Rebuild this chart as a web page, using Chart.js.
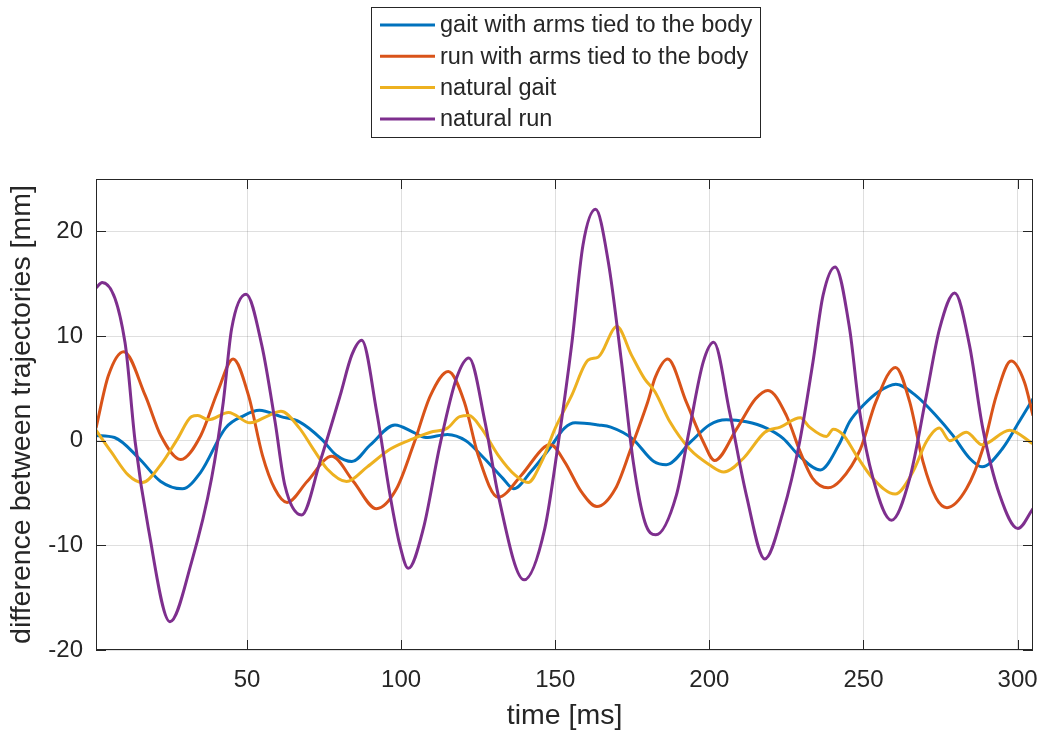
<!DOCTYPE html>
<html>
<head>
<meta charset="utf-8">
<script src="https://cdn.jsdelivr.net/npm/chart.js@4.4.0/dist/chart.umd.min.js"></script>
<style>
  html, body { margin: 0; padding: 0; background: #fff; }
  #wrap { width: 1038px; height: 733px; position: relative; }
</style>
</head>
<body>
<div id="wrap"><canvas id="chart"></canvas></div>
<script>
// values (time in ms, difference in mm)
var gaitTiedTime = [1, 7, 15, 22, 29, 35, 43, 49, 54, 61, 67, 74, 79, 84, 90, 98, 104, 108, 115, 121, 127, 133, 136.5, 142, 148, 153, 156.5, 164, 168, 175, 182, 186, 194, 200, 205.5, 212, 218.5, 224, 229, 236, 242, 245.5, 250, 255, 260.5, 267, 273.5, 279, 284.5, 288.5, 295, 300.5, 305];
var gaitTiedDiff = [0.5, 0.3, -1.7, -3.9, -4.6, -3.0, 1.2, 2.4, 2.9, 2.3, 1.8, 0.2, -1.4, -2.0, -0.4, 1.5, 0.8, 0.3, 0.6, 0, -1.7, -3.6, -4.6, -3.0, -0.8, 1.2, 1.7, 1.5, 1.3, 0.2, -2.0, -2.3, -0.1, 1.5, 2.0, 1.8, 1.2, 0.2, -1.4, -2.8, -0.4, 1.8, 3.4, 4.7, 5.4, 4.3, 2.4, 0.5, -1.7, -2.5, -0.8, 1.8, 4.0];

var runTiedTime = [1, 5, 10, 17, 22, 28.5, 35, 40.5, 45.5, 50.5, 55, 59, 63, 69.5, 77.5, 84.5, 92, 98.5, 104, 109.5, 115.3, 120.5, 125, 131.5, 139, 146.5, 148.5, 153, 158.5, 163.5, 169.5, 174.5, 180, 182.5, 186.5, 192.5, 198, 201.7, 209, 215, 219, 225, 229.5, 233.5, 238.5, 242.5, 249, 254, 260.4, 265, 269.3, 273.6, 277.1, 283.4, 288.7, 293.1, 297.9, 302.2, 305];
var runTiedDiff = [1.2, 6.2, 8.5, 4.3, 0.5, -1.8, 0.5, 4.7, 7.8, 4.3, -1.4, -4.6, -5.9, -3.9, -1.5, -3.9, -6.5, -4.6, -0.4, 4.3, 6.6, 3.7, -1.4, -5.4, -3.3, -0.6, -0.4, -2.0, -4.9, -6.3, -4.6, -0.8, 3.7, 6.1, 7.8, 3.7, -0.1, -1.9, 1.2, 4.0, 4.8, 2.4, -1.1, -3.6, -4.5, -3.8, -0.8, 3.7, 7.0, 3.7, -2.0, -5.5, -6.4, -4.6, -0.8, 4.3, 7.6, 5.6, 2.4];

var gaitTime = [1, 6, 11.5, 16, 22, 27.5, 32, 34, 37.5, 44, 51, 57, 61, 67, 71.5, 76, 82.3, 89, 96.5, 104, 109.5, 115, 119, 122, 126, 131.5, 137, 141.2, 145.6, 150, 155.3, 160.7, 164, 170, 174.7, 179, 182.3, 187.2, 193.6, 200, 204.7, 211, 218, 223, 229.5, 232.5, 238, 240.2, 243.3, 247.7, 253, 260.3, 266, 270.4, 274.6, 278, 283.4, 288.5, 297.4, 305];
var gaitDiff = [1.0, -1.1, -3.3, -4.0, -2.3, 0.2, 2.3, 2.4, 2.0, 2.7, 1.7, 2.4, 2.8, 1.2, -0.8, -2.7, -3.9, -2.5, -0.8, 0.2, 0.8, 1.2, 2.3, 2.4, 1.2, -1.4, -3.3, -4.0, -2.0, 1.2, 4.3, 7.7, 8.0, 10.9, 8.2, 5.9, 4.7, 1.8, -0.8, -2.3, -3.0, -1.7, 0.8, 1.3, 2.2, 1.3, 0.4, 1.1, 0.6, -1.4, -3.6, -5.1, -3.0, -0.1, 1.2, 0.0, 0.8, -0.4, 1.0, -0.3];

var runTime = [1, 3, 10.4, 13.7, 18, 25, 32, 38.5, 42.3, 45, 49.7, 54.8, 59.1, 62.3, 67.7, 73.7, 80.2, 84, 87.2, 92.1, 96.4, 99.6, 102.3, 107.2, 112.6, 118, 122, 127.2, 131.5, 139.9, 146.6, 150.9, 155.3, 159, 163.1, 167.2, 171.5, 175.3, 179.1, 182.6, 189.3, 193.6, 198, 201.4, 206.6, 212, 218, 223.9, 229.3, 233.6, 236.9, 240.8, 245.5, 248.8, 253.1, 259.1, 265, 270.4, 274.7, 279.6, 284.4, 288.7, 294.2, 300.1, 305];
var runDiff = [14.6, 15.1, 9.4, -0.1, -8.4, -17.3, -11.6, -3.6, 3.7, 10.7, 14.0, 9.1, 1.8, -4.3, -7.1, -2.0, 4.3, 8.2, 9.6, 2.7, -5.2, -10.0, -12.2, -8.4, -0.4, 6.0, 7.9, 1.8, -5.2, -13.3, -8.4, -0.4, 9.1, 18.7, 22.1, 17.1, 7.5, -2.0, -7.8, -9.0, -5.2, 1.2, 7.5, 9.4, 2.7, -5.2, -11.3, -6.8, -0.1, 7.5, 13.9, 16.6, 10.7, 2.7, -3.6, -7.6, -3.6, 4.3, 10.7, 14.1, 9.1, 1.2, -5.2, -8.4, -6.5];

var seriesLabels = ["gait with arms tied to the body", "run with arms tied to the body", "natural gait", "natural run"];
var seriesColors = ["#0072BD", "#D95319", "#EDB120", "#7E2F8E"];
var xTicks = [50, 100, 150, 200, 250, 300];
var yTicks = [-20, -10, 0, 10, 20];

var axisColor = "#262626";
var gridColor = "rgba(38,38,38,0.15)";
var fontFamily = "'Liberation Sans', Arial, Helvetica, sans-serif";

function toPoints(t, v) {
    return t.map(function (x, i) { return { x: x, y: v[i] }; });
}

// MATLAB style box: full frame with inward ticks on all four sides
var framePlugin = {
    id: "frame",
    afterDatasetsDraw: function (chart) {
        var a = chart.chartArea;
        var ctx = chart.ctx;
        var len = 10;
        ctx.save();
        ctx.strokeStyle = axisColor;
        ctx.lineWidth = 1;
        ctx.strokeRect(a.left + 0.5, a.top + 0.5, a.right - a.left - 1, a.bottom - a.top - 1);
        ctx.beginPath();
        chart.scales.x.ticks.forEach(function (t) {
            var px = Math.round(chart.scales.x.getPixelForValue(t.value)) + 0.5;
            ctx.moveTo(px, a.bottom); ctx.lineTo(px, a.bottom - len);
            ctx.moveTo(px, a.top); ctx.lineTo(px, a.top + len);
        });
        chart.scales.y.ticks.forEach(function (t) {
            var py = Math.round(chart.scales.y.getPixelForValue(t.value)) + 0.5;
            ctx.moveTo(a.left, py); ctx.lineTo(a.left + len, py);
            ctx.moveTo(a.right, py); ctx.lineTo(a.right - len, py);
        });
        ctx.stroke();
        ctx.restore();
    }
};

var legendPlugin = {
    id: "boxLegend",
    afterDraw: function (chart) {
        var ctx = chart.ctx;
        var left = 371, top = 7, w = 389, h = 130;
        ctx.save();
        ctx.fillStyle = "#fff";
        ctx.fillRect(left, top, w, h);
        ctx.strokeStyle = axisColor;
        ctx.lineWidth = 1;
        ctx.strokeRect(left + 0.5, top + 0.5, w, h);
        ctx.font = "23.5px " + fontFamily;
        ctx.textBaseline = "middle";
        ctx.textAlign = "left";
        chart.data.datasets.forEach(function (ds, i) {
            var y = top + 18 + i * 31.3;
            ctx.strokeStyle = ds.borderColor;
            ctx.lineWidth = 3;
            ctx.beginPath();
            ctx.moveTo(left + 9, y);
            ctx.lineTo(left + 64, y);
            ctx.stroke();
            ctx.fillStyle = axisColor;
            ctx.fillText(ds.label, left + 69, y + 1);
        });
        ctx.restore();
    }
};

var allTimes = [gaitTiedTime, runTiedTime, gaitTime, runTime];
var allDiffs = [gaitTiedDiff, runTiedDiff, gaitDiff, runDiff];

var datasets = seriesLabels.map(function (label, i) {
    return {
        label: label,
        data: toPoints(allTimes[i], allDiffs[i]),
        borderColor: seriesColors[i],
        backgroundColor: seriesColors[i],
        borderWidth: 3,
        pointRadius: 0,
        cubicInterpolationMode: "monotone",
        fill: false,
        order: 3 - i
    };
});

var chart = new Chart(document.getElementById("chart"), {
    type: "line",
    data: { datasets: datasets },
    options: {
        responsive: true,
        maintainAspectRatio: false,
        animation: false,
        layout: { padding: { top: 179, right: 5, left: 0, bottom: 0 } },
        plugins: {
            legend: { display: false },
            tooltip: { enabled: false }
        },
        scales: {
            x: {
                type: "linear",
                min: 1,
                max: 305,
                afterBuildTicks: function (s) {
                    s.ticks = xTicks.map(function (v) { return { value: v }; });
                },
                afterFit: function (s) {
                    s.height = 83;
                    s.paddingLeft = 0;
                    s.paddingRight = 0;
                },
                grid: { color: gridColor, drawTicks: false },
                border: { display: false },
                ticks: { color: axisColor, padding: 16, font: { family: fontFamily, size: 24 }, maxRotation: 0 },
                title: {
                    display: true,
                    text: "time [ms]",
                    color: axisColor,
                    font: { family: fontFamily, size: 28.5 },
                    padding: { top: 0, bottom: 0 }
                }
            },
            y: {
                type: "linear",
                min: -20,
                max: 25,
                afterBuildTicks: function (s) {
                    s.ticks = yTicks.map(function (v) { return { value: v }; });
                },
                afterFit: function (s) {
                    s.width = 96;
                    s.paddingTop = 0;
                    s.paddingBottom = 0;
                },
                grid: { color: gridColor, drawTicks: false },
                border: { display: false },
                ticks: { color: axisColor, padding: 13, font: { family: fontFamily, size: 24 } },
                title: {
                    display: true,
                    text: "difference between trajectories [mm]",
                    color: axisColor,
                    font: { family: fontFamily, size: 28.5 },
                    padding: { top: 5, bottom: 0 }
                }
            }
        }
    },
    plugins: [framePlugin, legendPlugin]
});
</script>
</body>
</html>
